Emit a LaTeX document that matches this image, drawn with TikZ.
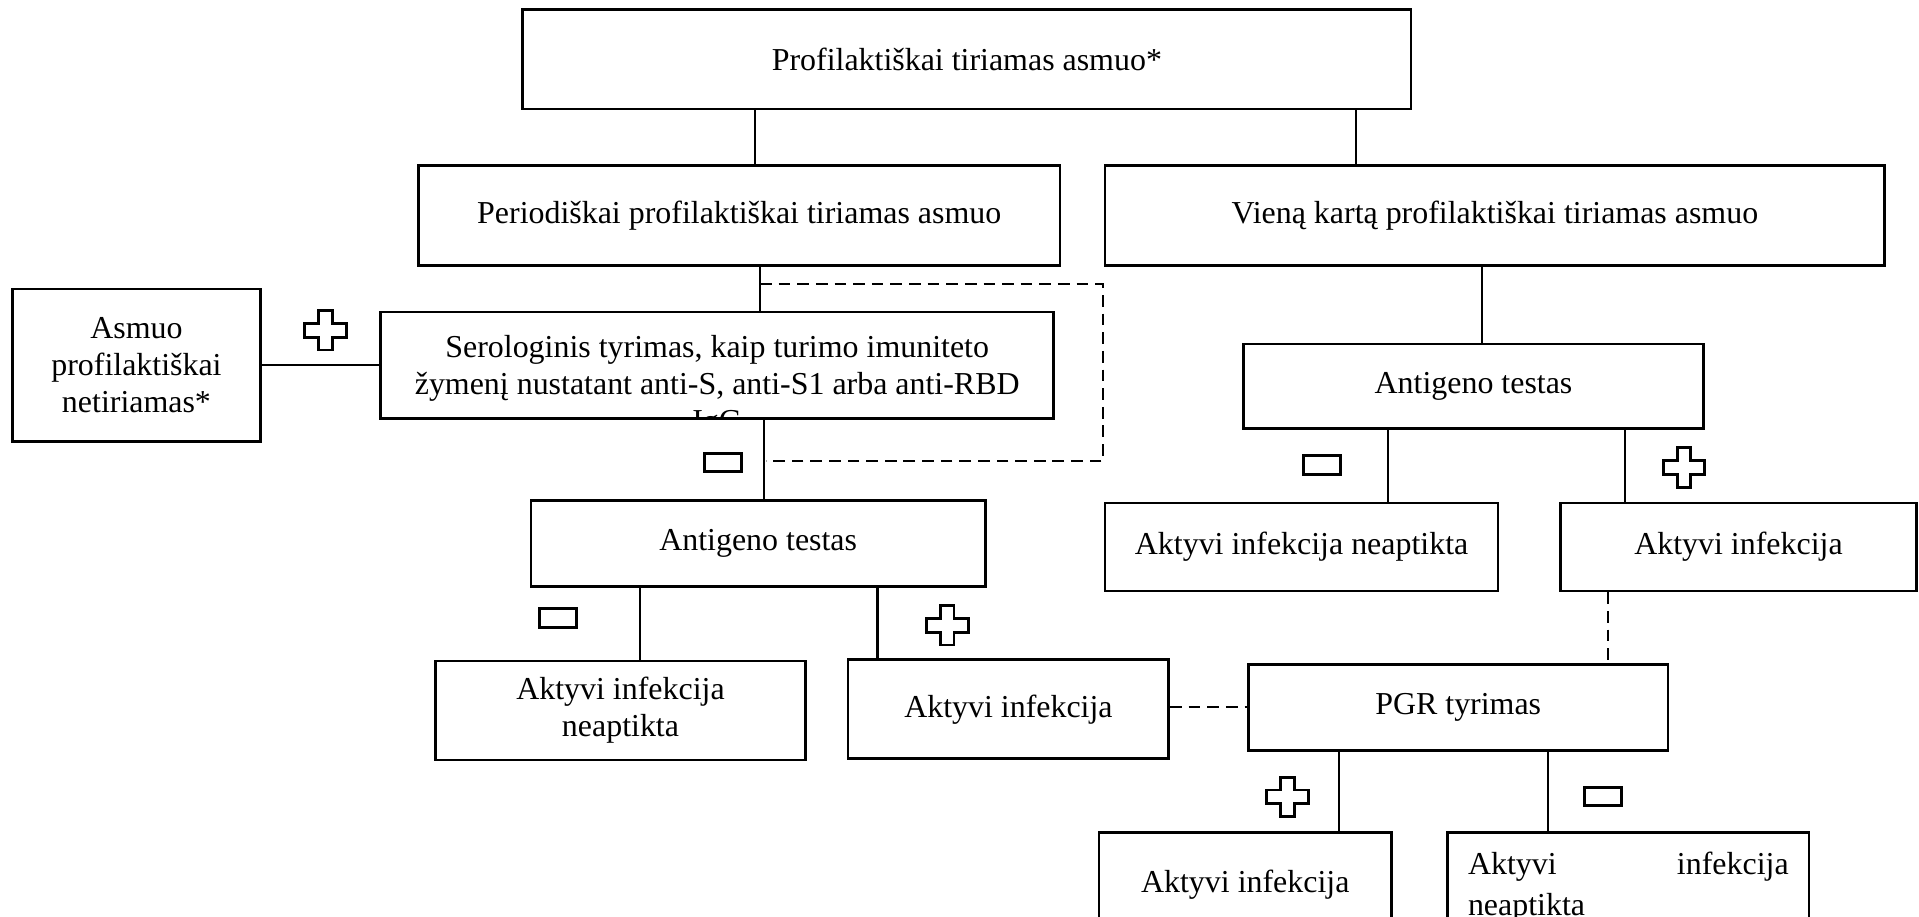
\documentclass[tikz,border=0pt]{standalone}
\usepackage{fontspec}
\setmainfont{Liberation Serif}
\def\pxsize{0.46pt}

\begin{document}
\begin{tikzpicture}[x=\pxsize, y=-\pxsize, font=\fontsize{12pt}{13.8pt}\selectfont]
    \tikzstyle{box}=[draw=black, line width=1pt, inner sep=0pt, align=center]
    \tikzstyle{link}=[draw=black, line width=0.8pt]
    \tikzstyle{dashlink}=[link, dash pattern=on 4.4pt off 2.6pt]
    \tikzstyle{sign}=[draw=black, line width=1.1pt]
    \tikzset{
        plus sign/.pic={\draw[sign] (-5.5,-16) -- (5.5,-16) -- (5.5,-5.5) -- (17,-5.5) -- (17,5.5)
            -- (5.5,5.5) -- (5.5,16) -- (-5.5,16) -- (-5.5,5.5) -- (-17,5.5) -- (-17,-5.5)
            -- (-5.5,-5.5) -- cycle;},
        minus sign/.pic={\draw[sign] (-15,-7.5) rectangle (15,7.5);}
    }

    \useasboundingbox (0,0) rectangle (1568,749);
    \clip (0,0) rectangle (1568,749);

    % Draw the top boxes
    \node[box, minimum width=726*\pxsize, minimum height=81*\pxsize] (top) at (790,48.5) {Profilaktiškai tiriamas asmuo*};
    \node[box, minimum width=524*\pxsize, minimum height=82*\pxsize] (periodic) at (604,176) {Periodiškai profilaktiškai tiriamas asmuo};
    \node[box, minimum width=637*\pxsize, minimum height=82*\pxsize] (once) at (1221.5,176) {Vieną kartą profilaktiškai tiriamas asmuo};

    % Left branch
    \node[box, minimum width=203*\pxsize, minimum height=125*\pxsize] (not-tested) at (111.5,298.5) {Asmuo\\profilaktiškai\\netiriamas*};
    \node[box, minimum width=550*\pxsize, minimum height=87*\pxsize] (sero) at (586,298.5) {};
    \begin{scope}
        \clip (sero.north west) rectangle (sero.south east);
        \node[align=center, inner sep=0pt] (sero-text) at (586,316) {Serologinis tyrimas, kaip turimo imuniteto\\žymenį nustatant anti-S, anti-S1 arba anti-RBD\\IgG};
    \end{scope}
    \node[box, minimum width=371*\pxsize, minimum height=70*\pxsize] (ag-left) at (619.5,444) {Antigeno testas};
    \node[box, minimum width=302*\pxsize, minimum height=81*\pxsize] (neg-left) at (507,580.5) {Aktyvi infekcija\\neaptikta};
    \node[box, minimum width=262*\pxsize, minimum height=81*\pxsize] (pos-left) at (824,579.5) {Aktyvi infekcija};

    % Right branch
    \node[box, minimum width=376*\pxsize, minimum height=69*\pxsize] (ag-right) at (1204,315.5) {Antigeno testas};
    \node[box, minimum width=321*\pxsize, minimum height=72*\pxsize] (neg-right) at (1063.5,447) {Aktyvi infekcija neaptikta};
    \node[box, minimum width=291*\pxsize, minimum height=72*\pxsize] (pos-right) at (1420.5,447) {Aktyvi infekcija};
    \node[box, minimum width=343*\pxsize, minimum height=70*\pxsize] (pgr) at (1191.5,578) {PGR tyrimas};
    \node[box, minimum width=239*\pxsize, minimum height=86*\pxsize] (pos-pgr) at (1017.5,723) {Aktyvi infekcija};
    \node[box, minimum width=295*\pxsize, minimum height=90*\pxsize, text width=262*\pxsize, align=left,
          font=\fontsize{12pt}{15.2pt}\selectfont] (neg-pgr) at (1330.5,725) {Aktyvi\hfill infekcija\\neaptikta};

    % Connect the boxes
    \path[link] (top.south -| 617,0) -- (periodic.north -| 617,0);
    \path[link] (top.south -| 1108,0) -- (once.north -| 1108,0);
    \path[link] (periodic.south -| 621,0) -- (sero.north -| 621,0);
    \path[link] (not-tested.east) -- (sero.west);
    \path[link] (sero.south -| 624,0) -- (ag-left.north -| 624,0);
    \path[link] (ag-left.south -| 523,0) -- (neg-left.north -| 523,0);
    \path[link] (ag-left.south -| 717,0) -- (pos-left.north -| 717,0);
    \path[link] (once.south -| 1211,0) -- (ag-right.north -| 1211,0);
    \path[link] (ag-right.south -| 1134,0) -- (neg-right.north -| 1134,0);
    \path[link] (ag-right.south -| 1328,0) -- (pos-right.north -| 1328,0);
    \path[link] (pgr.south -| 1094,0) -- (pos-pgr.north -| 1094,0);
    \path[link] (pgr.south -| 1265,0) -- (neg-pgr.north -| 1265,0);

    % Dashed links
    \coordinate (loop-start) at (621,232);
    \coordinate (loop-end) at (626,377);
    \path[dashlink] (loop-start) -| (901,377) -- (loop-end);
    \path[dashlink] (pos-left.east |- 0,578) -- (pgr.west |- 0,578);
    \path[dashlink] (pos-right.south -| 1314,0) -- (pgr.north -| 1314,0);

    % Plus and minus signs
    \foreach \x / \y in {266/270, 774/511, 1376/382, 1052/651}
        \pic at (\x,\y) {plus sign};
    \foreach \x / \y in {591/378, 456/505, 1080/380, 1310/651}
        \pic at (\x,\y) {minus sign};

\end{tikzpicture}
\end{document}
